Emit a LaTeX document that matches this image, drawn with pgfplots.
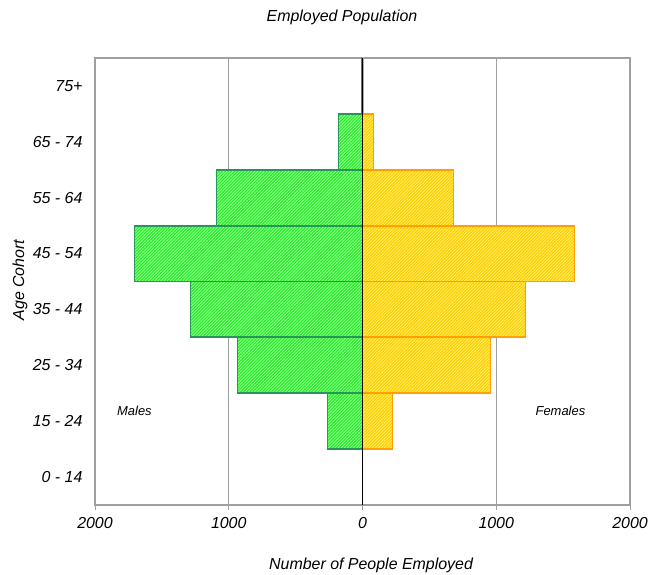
\documentclass[border=0pt]{standalone}
\usepackage{fontspec}
\setmainfont{Liberation Sans}
\usepackage{pgfplots}
\pgfplotsset{compat=1.18}
\usetikzlibrary{patterns.meta}

\definecolor{mfill}{RGB}{40,235,40}
\definecolor{mhatch}{RGB}{150,255,150}
\definecolor{medge}{RGB}{40,150,90}
\definecolor{ffill}{RGB}{255,205,0}
\definecolor{fhatch}{RGB}{255,240,110}
\definecolor{fedge}{RGB}{255,160,0}
\definecolor{frame}{RGB}{160,160,160}

\begin{document}
\begin{tikzpicture}
\begin{axis}[
  scale only axis, width=535bp, height=447bp,
  xmin=-2000, xmax=2000, ymin=-0.5, ymax=7.5,
  xbar, bar width=1, bar shift=0pt,
  xtick={-2000,-1000,0,1000,2000},
  xticklabels={2000,1000,0,1000,2000},
  ytick={0,...,7},
  yticklabels={0 - 14,15 - 24,25 - 34,35 - 44,45 - 54,55 - 64,65 - 74,75+},
  xmajorgrids, major grid style={frame, line width=0.8bp},
  axis line style={frame, line width=1.2bp},
  tick align=outside, xtick pos=bottom, ytick pos=left,
  major tick length=5bp,
  x tick style={frame, line width=0.8bp},
  y tick style={draw=none},
  /pgf/number format/assume math mode=true,
  tick label style={font=\fontsize{16}{18}\selectfont\itshape},
  xticklabel style={yshift=-4bp},
  yticklabel style={xshift=-4bp},
  label style={font=\fontsize{16}{18}\selectfont\itshape},
  every axis title shift=0pt,
  title style={font=\fontsize{16}{18}\selectfont\itshape,
    at={(axis description cs:0.4617,1.0917)}, anchor=center},
  xlabel style={at={(axis description cs:0.516,-0.1342)}, anchor=center},
  ylabel style={at={(axis description cs:-0.1402,0.503)}, anchor=center},
  title={Employed Population},
  xlabel={Number of People Employed},
  ylabel={Age Cohort},
]
\addplot[preaction={fill=mfill}, draw=medge, line width=1.8bp,
  pattern={Lines[angle=45,distance=2.2pt,line width=0.8pt]}, pattern color=mhatch]
  coordinates {(-262,1) (-935,2) (-1286,3) (-1705,4) (-1092,5) (-180,6) (-6,7)};
\addplot[preaction={fill=ffill}, draw=fedge, line width=1.8bp,
  pattern={Lines[angle=45,distance=2.2pt,line width=0.8pt]}, pattern color=fhatch]
  coordinates {(224,1) (957,2) (1219,3) (1585,4) (680,5) (82,6) (1,7)};
\draw[black, line width=0.9bp] (axis cs:0,-0.5) -- (axis cs:0,7.5);
\node[font=\fontsize{13}{15}\selectfont\itshape] at (axis cs:-1705,1.18) {Males};
\node[font=\fontsize{13}{15}\selectfont\itshape] at (axis cs:1480,1.18) {Females};
\end{axis}
\pgfresetboundingbox
\path ([shift={(-95bp,-70bp)}]current axis.south west) rectangle ([shift={(30bp,58bp)}]current axis.north east);
\end{tikzpicture}
\end{document}
